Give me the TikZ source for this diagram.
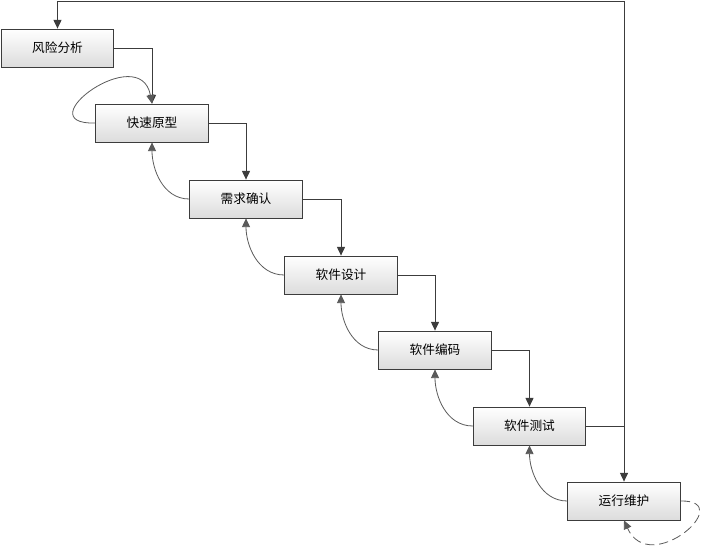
\documentclass[tikz,border=0pt]{standalone}
\usepackage{fontspec}
\newfontfamily\cjk{Noto Sans CJK SC}
\usetikzlibrary{arrows.meta}
\usepackage{xcolor}
\definecolor{lnedge}{HTML}{3C3C3C}
\definecolor{lnback}{HTML}{5A5A5A}
\definecolor{boxtop}{HTML}{FFFFFF}
\definecolor{boxbot}{HTML}{DCDCDC}

\begin{document}
\begin{tikzpicture}[x=0.75pt, y=-0.75pt,
    stage/.style={draw=lnedge, line width=0.6pt, top color=boxtop, bottom color=boxbot,
                  minimum width=84.5pt, minimum height=28.5pt, inner sep=0pt,
                  font=\cjk\fontsize{9.5}{11}\selectfont},
    fwd/.style={draw=lnedge, line width=0.7pt, -{Triangle[length=6.5pt,width=6pt]}},
    back/.style={draw=lnback, line width=0.6pt, -{Triangle[length=6.5pt,width=6pt]}, fill=none}]
  \useasboundingbox (0,0) rectangle (705,545);

  \node[stage] (risk)  at (57.5,48)  {风险分析};
  \node[stage] (proto) at (152,123)  {快速原型};
  \node[stage] (req)   at (246,199)  {需求确认};
  \node[stage] (dsgn)  at (341,275)  {软件设计};
  \node[stage] (code)  at (435,350)  {软件编码};
  \node[stage] (test)  at (529.5,426) {软件测试};
  \node[stage] (run)   at (624,501)  {运行维护};

  % forward flow
  \draw[fwd] (risk.east)  -| (proto.north);
  \draw[fwd] (proto.east) -| (req.north);
  \draw[fwd] (req.east)   -| (dsgn.north);
  \draw[fwd] (dsgn.east)  -| (code.north);
  \draw[fwd] (code.east)  -| (test.north);
  \draw[fwd] (test.east)  -| (run.north);

  % going back one stage
  \draw[back] (req.west)  to[out=180, in=-90] (proto.south);
  \draw[back] (dsgn.west) to[out=180, in=-90] (req.south);
  \draw[back] (code.west) to[out=180, in=-90] (dsgn.south);
  \draw[back] (test.west) to[out=180, in=-90] (code.south);
  \draw[back] (run.west)  to[out=180, in=-90] (test.south);

  % loop on the prototype
  \draw[back] (proto.west) .. controls (25,125) and (140,40) .. (proto.north);

  % big loop back to risk analysis
  \coordinate (joint) at (run.north |- test.east);
  \coordinate (topright) at (624,1);
  \draw[fwd] (joint) -- (topright) -| (risk.north);

  % maintenance loop
  \draw[back, dashed, dash pattern=on 7pt off 3.5pt]
    (run.east) .. controls (738,500) and (650,578) .. (run.south);
\end{tikzpicture}
\end{document}
